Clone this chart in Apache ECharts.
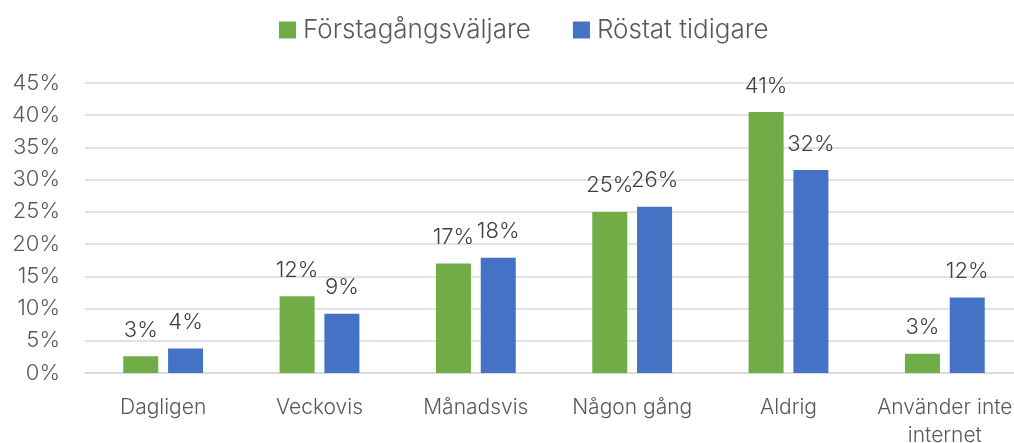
<!DOCTYPE html>
<html>
<head>
<meta charset="utf-8">
<script src="https://cdn.jsdelivr.net/npm/echarts@6/dist/echarts.min.js"></script>
<style>
  html, body { margin: 0; padding: 0; background: #fff; }
  #chart { width: 1014px; height: 443px; }
</style>
</head>
<body>
<div id="chart"></div>
<script>
const categories = ['Dagligen', 'Veckovis', 'Månadsvis', 'Någon gång', 'Aldrig', 'Använder inte\ninternet'];
const seriesNames = ['Förstagångsväljare', 'Röstat tidigare'];
const firstTimeVoters = [2.6, 11.9, 17.0, 25.0, 40.5, 3.0];
const votedBefore = [3.8, 9.2, 17.9, 25.8, 31.5, 11.7];
const colors = ['#70AD47', '#4472C4'];

const chart = echarts.init(document.getElementById('chart'));
const font = 'Inter, "Liberation Sans", Arial, sans-serif';

const barLabel = {
    show: true,
    position: 'top',
    distance: 15,
    color: '#404040',
    fontSize: 22,
    fontWeight: 300,
    fontFamily: font,
    formatter: function (p) {
        return Math.round(p.value) + '%';
    }
};

const option = {
    animation: false,
    textStyle: {fontFamily: font},
    legend: {
        top: 12,
        left: 274,
        itemWidth: 17,
        itemHeight: 17,
        itemGap: 42,
        icon: 'rect',
        textStyle: {fontSize: 26, fontWeight: 300, color: '#595959', fontFamily: font, padding: [0, 0, 0, 2]},
        data: seriesNames
    },
    grid: {
        left: 85,
        top: 83,
        width: 938,
        height: 290,
        containLabel: false,
        outerBoundsMode: 'none'
    },
    xAxis: {
        type: 'category',
        data: categories,
        axisLine: {lineStyle: {color: '#d9d9d9', width: 1.5}},
        axisTick: {show: false},
        axisLabel: {
            color: '#595959',
            fontSize: 21,
            fontWeight: 300,
            fontFamily: font,
            margin: 21,
            lineHeight: 28,
            interval: 0
        }
    },
    yAxis: {
        type: 'value',
        min: 0,
        max: 45,
        interval: 5,
        axisLine: {show: false},
        axisTick: {show: false},
        splitLine: {lineStyle: {color: '#d9d9d9', width: 1.5}},
        axisLabel: {
            color: '#595959',
            fontSize: 22,
            fontWeight: 300,
            fontFamily: font,
            margin: 25,
            formatter: '{value}%'
        }
    },
    series: [
        {
            name: seriesNames[0],
            type: 'bar',
            data: firstTimeVoters,
            barWidth: 35,
            barGap: '28%',
            itemStyle: {color: colors[0]},
            label: barLabel
        },
        {
            name: seriesNames[1],
            type: 'bar',
            data: votedBefore,
            barWidth: 35,
            itemStyle: {color: colors[1]},
            label: barLabel
        }
    ]
};

chart.setOption(option);
</script>
</body>
</html>
